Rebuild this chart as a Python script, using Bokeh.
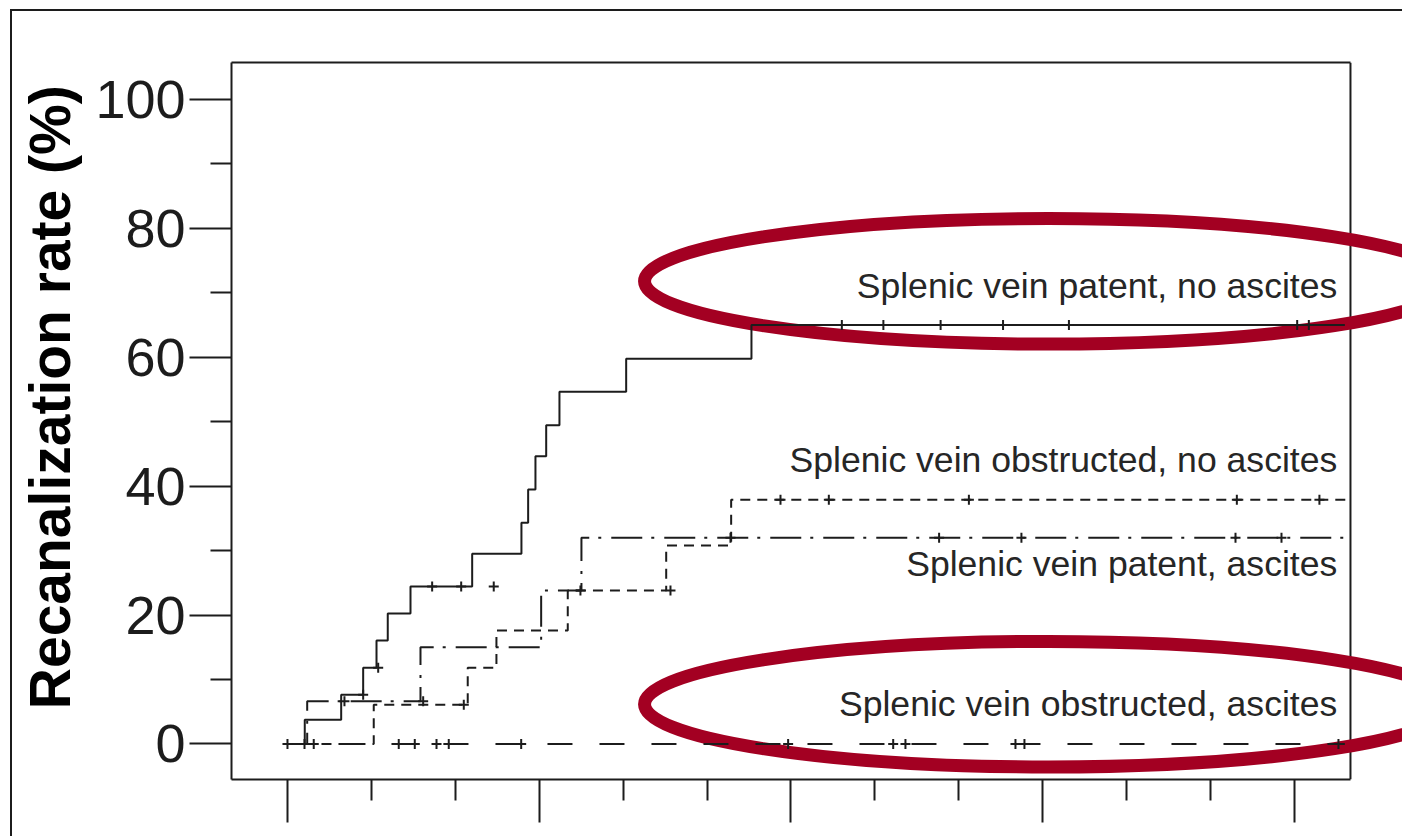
from bokeh.plotting import figure
from bokeh.models import Range1d, LinearAxis, FixedTicker, Span
from bokeh.embed import file_html
from bokeh.resources import INLINE
from bokeh.core.properties import value

# Cumulative recanalization (Kaplan-Meier), time in months, rate in %
# Splenic vein patent, no ascites
pn_time = [0, 0.206, 0.640, 0.902, 1.061, 1.195, 1.466, 2.201, 2.788, 2.868,
           2.955, 3.083, 3.241, 4.036, 5.529, 12.60]
pn_rate = [0, 3.75, 7.63, 11.82, 16.05, 20.24, 24.43, 29.5, 34.3, 39.47,
           44.63, 49.44, 54.62, 59.74, 64.98, 64.98]
pn_cens_time = [0.902, 1.081, 1.724, 2.070, 2.458, 6.606, 7.101, 7.783, 8.527,
                9.312, 12.032, 12.171]
pn_cens_rate = [7.63, 11.82, 24.43, 24.43, 24.43, 64.98, 64.98, 64.98, 64.98,
                64.98, 64.98, 64.98]

# Splenic vein obstructed, no ascites
on_time = [0, 1.028, 2.148, 2.490, 3.340, 4.513, 5.287, 12.62]
on_rate = [0, 6.08, 11.82, 17.60, 23.81, 30.78, 37.87, 37.87]
on_cens_time = [2.101, 3.491, 4.564, 5.875, 6.451, 8.120, 11.313, 12.297]
on_cens_rate = [6.08, 23.81, 23.81, 37.87, 37.87, 37.87, 37.87, 37.87]

# Splenic vein patent, ascites
pa_time = [0, 0.235, 1.585, 3.023, 3.503, 12.62]
pa_rate = [0, 6.64, 15.01, 23.81, 31.98, 31.98]
pa_cens_time = [0.679, 1.617, 5.279, 7.765, 8.746, 11.297, 11.845]
pa_cens_rate = [6.64, 6.64, 31.98, 31.98, 31.98, 31.98, 31.98]

# Splenic vein obstructed, ascites
oa_time = [0, 12.60]
oa_rate = [0, 0]
oa_cens_time = [0.0, 0.203, 0.313, 1.326, 1.517, 1.776, 1.922, 2.785, 5.966,
                7.218, 7.364, 8.675, 8.782, 12.524]
oa_cens_rate = [0] * 14

# Group labels
group_names = ["Splenic vein patent, no ascites",
               "Splenic vein obstructed, no ascites",
               "Splenic vein patent, ascites",
               "Splenic vein obstructed, ascites"]
label_x = [12.51, 12.51, 12.51, 12.51]
label_y = [71.1, 44.0, 27.9, 6.2]

# Highlight rings around the two groups of interest
ring_x = [9.07, 9.07]
ring_y = [71.76, 6.17]
ring_w = [9.63, 9.63]
ring_h = [19.48, 19.48]

y_major = [0, 20, 40, 60, 80, 100]
y_minor = [10, 30, 50, 70, 90]
x_major = [0, 3, 6, 9, 12]
x_minor = [1, 2, 4, 5, 7, 8, 10, 11]

INK = "#1c1c1c"
RING = "#a30022"
FONT = "Liberation Sans"

# thin panel frame along the top and left edges of the page
panel_frame = {
    "background-image": f"linear-gradient({INK}, {INK}), linear-gradient({INK}, {INK})",
    "background-size": "2px 100%, 100% 2px",
    "background-position": "10px 9px, 10px 9px",
    "background-repeat": "no-repeat",
    "background-color": "white",
}

p = figure(width=1402, height=836, output_backend="svg", toolbar_location=None,
           x_range=Range1d(-0.667, 13.287), y_range=Range1d(-5.506, 105.69),
           min_border_left=231, min_border_right=0, min_border_top=62,
           min_border_bottom=57, x_axis_location=None, y_axis_location=None,
           background_fill_color=None, border_fill_color=None,
           styles=panel_frame)
p.outline_line_color = None
p.grid.visible = False

yaxis = LinearAxis(ticker=FixedTicker(ticks=y_major, minor_ticks=y_minor),
                   axis_label="\u00a0\u00a0\u00a0Recanalization rate (%)")
yaxis.axis_line_width = 2
yaxis.axis_line_color = INK
yaxis.major_tick_out = 42
yaxis.major_tick_in = 0
yaxis.minor_tick_out = 21
yaxis.minor_tick_in = 0
yaxis.major_tick_line_width = 2
yaxis.minor_tick_line_width = 2
yaxis.major_tick_line_color = INK
yaxis.minor_tick_line_color = INK
yaxis.major_label_standoff = 4
yaxis.major_label_text_font = FONT
yaxis.major_label_text_font_size = "54px"
yaxis.major_label_text_color = INK
yaxis.axis_label_text_font = FONT
yaxis.axis_label_text_font_size = "57px"
yaxis.axis_label_text_font_style = "bold"
yaxis.axis_label_text_color = "black"
yaxis.axis_label_standoff = 10
p.add_layout(yaxis, "left")

xaxis = LinearAxis(ticker=FixedTicker(ticks=x_major, minor_ticks=x_minor),
                   bounds=(-0.667, 12.667))
xaxis.axis_line_width = 2
xaxis.axis_line_color = INK
xaxis.major_tick_out = 43
xaxis.major_tick_in = 0
xaxis.minor_tick_out = 21
xaxis.minor_tick_in = 0
xaxis.major_tick_line_width = 2
xaxis.minor_tick_line_width = 2
xaxis.major_tick_line_color = INK
xaxis.minor_tick_line_color = INK
xaxis.major_label_text_color = None
p.add_layout(xaxis, "below")

# top edge of the plot box
topaxis = LinearAxis(ticker=FixedTicker(ticks=[]), bounds=(-0.667, 12.667))
topaxis.axis_line_width = 2
topaxis.axis_line_color = INK
topaxis.major_label_text_color = None
topaxis.major_tick_out = 0
topaxis.minor_tick_out = 0
p.add_layout(topaxis, "above")

# right edge of the plot box
p.add_layout(Span(location=12.667, dimension="height", line_color=INK,
                  line_width=2, level="underlay"))

# highlight rings
p.ellipse(x=ring_x, y=ring_y, width=ring_w, height=ring_h,
          fill_color=None, line_color=RING, line_width=13)

# curves
p.step(pn_time, pn_rate, mode="after", line_color=INK, line_width=2)
p.step(on_time, on_rate, mode="after", line_color=INK, line_width=2,
       line_dash="10 7")
p.step(pa_time, pa_rate, mode="after", line_color=INK, line_width=2,
       line_dash="31 9 3 10")
p.step(oa_time, oa_rate, mode="after", line_color=INK, line_width=2,
       line_dash="25 27")

# censoring marks
for tx, ty in [(pn_cens_time, pn_cens_rate), (on_cens_time, on_cens_rate),
               (pa_cens_time, pa_cens_rate), (oa_cens_time, oa_cens_rate)]:
    p.scatter(tx, ty, marker="cross", size=10, line_width=2, line_color=INK)

p.text(x=label_x, y=label_y, text=group_names, text_align="right",
       text_baseline="alphabetic", text_font=value(FONT),
       text_font_size="35.6px", text_color="#262626")

open("out.html", "w").write(file_html(p, INLINE))
